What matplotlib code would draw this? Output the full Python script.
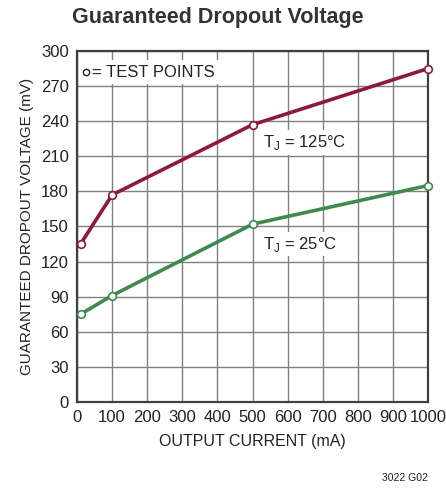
import matplotlib
matplotlib.use("Agg")
import matplotlib.pyplot as plt

plt.rcParams['font.family'] = ['Liberation Sans', 'DejaVu Sans']

current_ma = [10, 100, 500, 1000]
dropout_125c = [135, 177, 237, 285]
dropout_25c = [75, 91, 152, 185]
x_ticks = list(range(0, 1001, 100))
y_ticks = list(range(0, 301, 30))

red = '#8c1a3c'
green = '#3f8a4f'
txt = '#222222'

fig = plt.figure(figsize=(4.46, 4.91), dpi=100)
ax = fig.add_axes([77 / 446, 89 / 491, 351 / 446, 351 / 491])

ax.plot(current_ma, dropout_125c, color=red, lw=2.6, marker='o', ms=5.5,
        mfc='white', mec=red, mew=1.2, zorder=3, clip_on=False)
ax.plot(current_ma, dropout_25c, color=green, lw=2.6, marker='o', ms=5.5,
        mfc='white', mec=green, mew=1.2, zorder=3, clip_on=False)

ax.set_xlim(0, 1000)
ax.set_ylim(0, 300)
ax.set_xticks(x_ticks)
ax.set_yticks(y_ticks)
ax.grid(True, color='#808080', lw=1.0)
ax.tick_params(length=0, labelsize=12, pad=6, colors=txt)
for s in ax.spines.values():
    s.set_color('#404040')
    s.set_linewidth(1.6)

ax.set_xlabel('OUTPUT CURRENT (mA)', fontsize=11.5, color=txt, labelpad=6)
ax.set_ylabel('GUARANTEED DROPOUT VOLTAGE (mV)', fontsize=11, color=txt, labelpad=5)

fig.text(218 / 446, 1 - 18 / 491, 'Guaranteed Dropout Voltage', ha='center', va='center',
         fontsize=15.5, fontweight='bold', color='#333333')
fig.text(428 / 446, 1 - 478 / 491, '3022 G02', ha='right', va='center', fontsize=7.5, color=txt)

# legend-like note
ax.text(44, 282, '= TEST POINTS', fontsize=12, va='center', color=txt, zorder=4,
        bbox=dict(facecolor='white', edgecolor='none', pad=3))
ax.plot([26], [282], marker='o', ms=4.5, mfc='white', mec=txt, mew=1.0, ls='none', zorder=5)

ax.text(530, 222, r'T$_\mathregular{J}$ = 125°C', fontsize=12, va='center', color=txt,
        bbox=dict(facecolor='white', edgecolor='none', pad=2))
ax.text(530, 135, r'T$_\mathregular{J}$ = 25°C', fontsize=12, va='center', color=txt,
        bbox=dict(facecolor='white', edgecolor='none', pad=2))

fig.savefig('out.png', dpi=100)
